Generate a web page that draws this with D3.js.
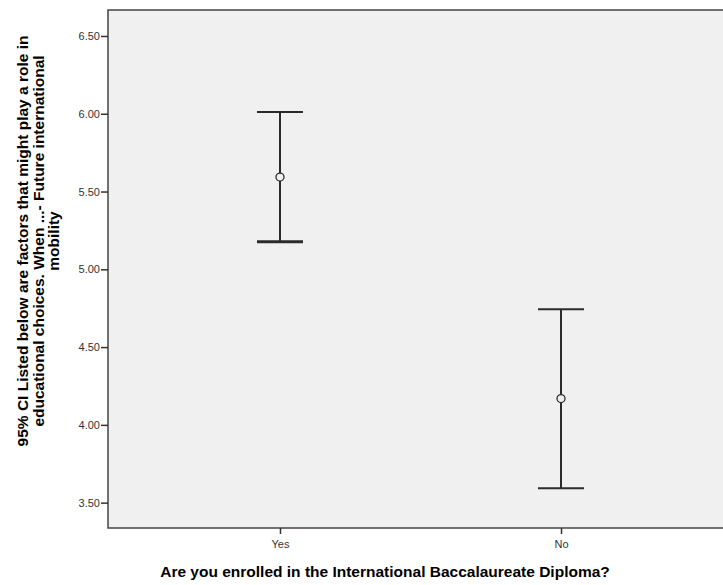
<!DOCTYPE html>
<html>
<head>
<meta charset="utf-8">
<script src="https://cdn.jsdelivr.net/npm/d3@7"></script>
<style>
  html, body { margin: 0; padding: 0; background: #fff; }
  svg { display: block; overflow: hidden; }
</style>
</head>
<body>
<svg id="chart" width="723" height="585"></svg>
<script>
// ---- data ----
const categories = ["Yes", "No"];
const means = [5.593, 4.169];
const ciLower = [5.177, 3.592];
const ciUpper = [6.011, 4.744];
const yTicks = [3.5, 4.0, 4.5, 5.0, 5.5, 6.0, 6.5];
const xTitle = "Are you enrolled in the International Baccalaureate Diploma?";
const yTitleLines = [
  "95% CI Listed below are factors that might play a role in",
  "educational choices. When ...- Future international",
  "mobility"
];

// ---- layout ----
const svg = d3.select("#chart");
const plot = { left: 108, top: 10, right: 733, bottom: 528 };

const x = d3.scalePoint().domain(categories).range([plot.left, plot.right]).padding(0.612);
const y = d3.scaleLinear().domain([3.337, 6.667]).range([plot.bottom, plot.top]);

// plot background
svg.append("rect")
  .attr("x", plot.left).attr("y", plot.top)
  .attr("width", plot.right - plot.left).attr("height", plot.bottom - plot.top)
  .attr("fill", "#f0f0f0")
  .attr("stroke", "#444").attr("stroke-width", 1.5);

// y axis
const yAxis = svg.append("g")
  .attr("transform", `translate(${plot.left},0)`)
  .call(d3.axisLeft(y).tickValues(yTicks).tickFormat(d3.format(".2f")).tickSize(7).tickPadding(1));
yAxis.select(".domain").remove();
yAxis.selectAll(".tick line").attr("stroke", "#333").attr("stroke-width", 1.5);
yAxis.selectAll(".tick text")
  .attr("fill", "#333").style("font-family", "'Liberation Sans', Arial, sans-serif").style("font-size", "11px");

// x axis
const xAxis = svg.append("g")
  .attr("transform", `translate(0,${plot.bottom})`)
  .call(d3.axisBottom(x).tickSize(6).tickPadding(6));
xAxis.select(".domain").remove();
xAxis.selectAll(".tick line").attr("stroke", "#333").attr("stroke-width", 1.5);
xAxis.selectAll(".tick text")
  .attr("fill", "#333").style("font-family", "'Liberation Sans', Arial, sans-serif").style("font-size", "11px");

// error bars
const capHalf = 23;
const g = svg.append("g").attr("stroke", "#2b2b2b").attr("fill", "none");
categories.forEach((c, i) => {
  const cx = x(c);
  g.append("line").attr("x1", cx).attr("x2", cx)
    .attr("y1", y(ciUpper[i])).attr("y2", y(ciLower[i])).attr("stroke-width", 2);
  g.append("line").attr("x1", cx - capHalf).attr("x2", cx + capHalf)
    .attr("y1", y(ciUpper[i])).attr("y2", y(ciUpper[i])).attr("stroke-width", 2);
  g.append("line").attr("x1", cx - capHalf).attr("x2", cx + capHalf)
    .attr("y1", y(ciLower[i])).attr("y2", y(ciLower[i])).attr("stroke-width", i === 0 ? 3 : 2);
  g.append("circle").attr("cx", cx).attr("cy", y(means[i])).attr("r", 4)
    .attr("fill", "#f0f0f0").attr("stroke-width", 1.3);
});

// x title
svg.append("text")
  .attr("x", 385).attr("y", 577)
  .attr("text-anchor", "middle")
  .style("font-family", "'Liberation Sans', Arial, sans-serif")
  .style("font-weight", "bold").style("font-size", "15.5px")
  .attr("fill", "#000")
  .text(xTitle);

// y title
const yt = svg.append("text")
  .attr("transform", "translate(0,241) rotate(-90)")
  .attr("text-anchor", "middle")
  .style("font-family", "'Liberation Sans', Arial, sans-serif")
  .style("font-weight", "bold").style("font-size", "15.5px")
  .attr("fill", "#000");
yTitleLines.forEach((line, i) => {
  yt.append("tspan").attr("x", 0).attr("y", 28 + i * 15.5).text(line);
});
</script>
</body>
</html>
